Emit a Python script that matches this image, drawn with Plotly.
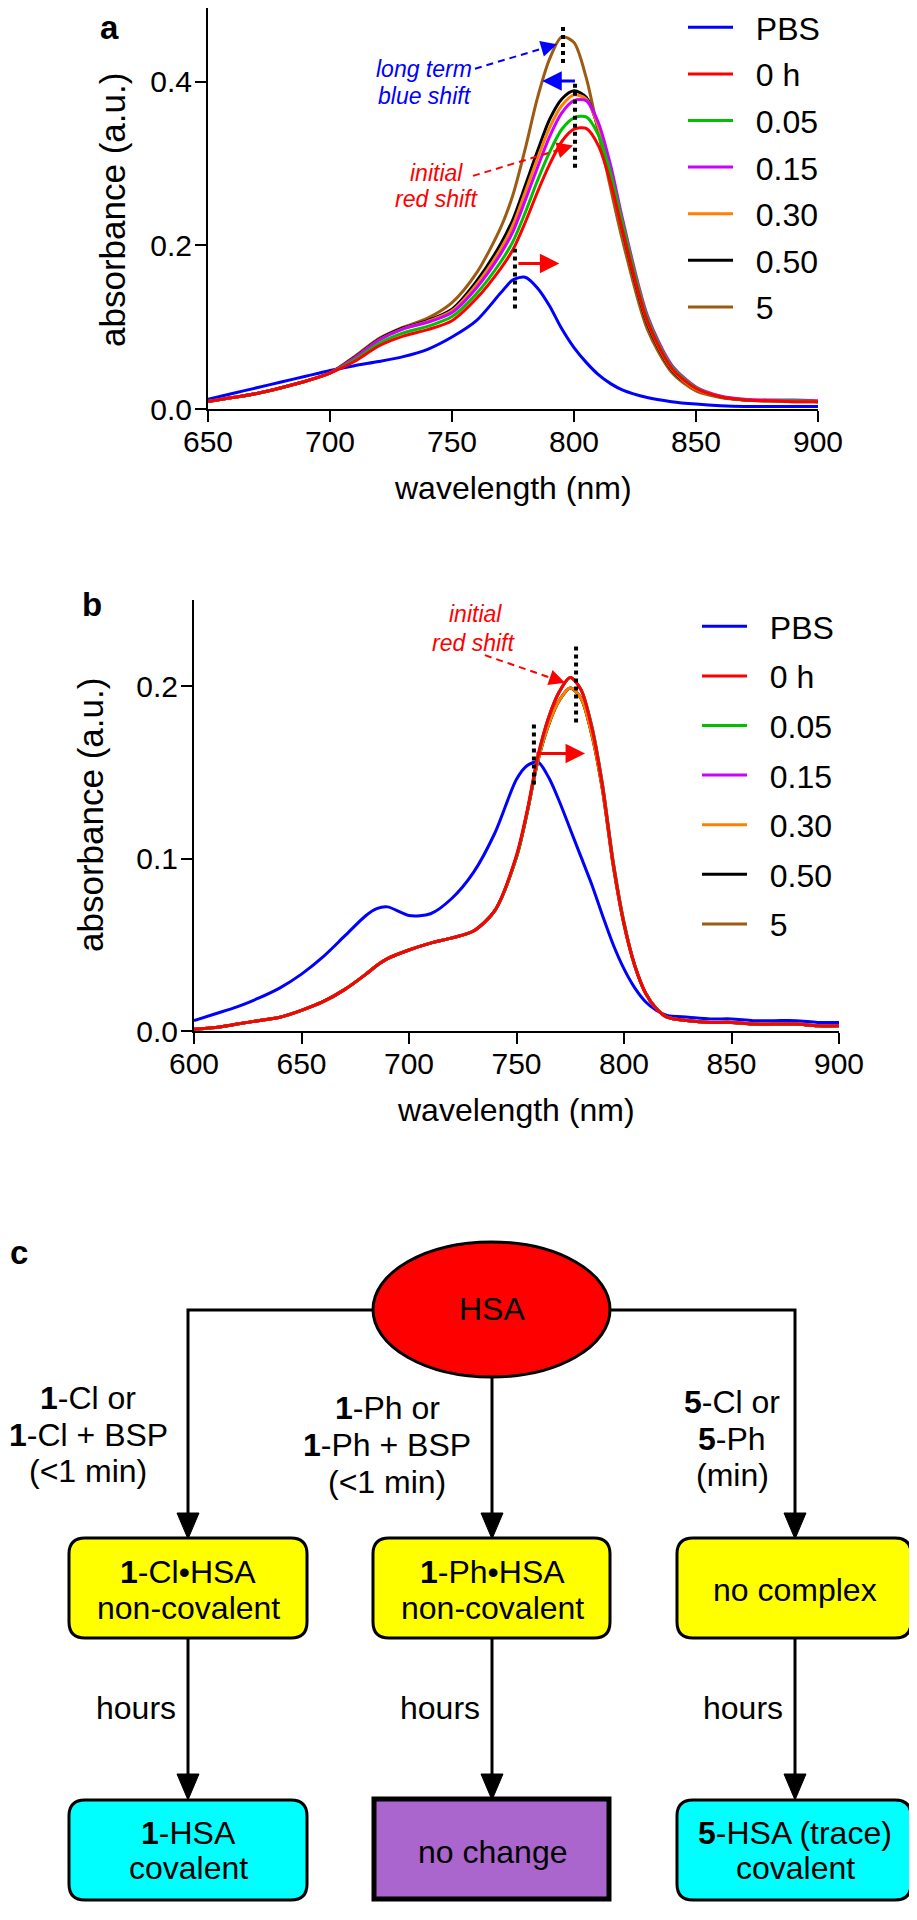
import plotly.graph_objects as go

FIG_W, FIG_H = 917, 1920
OFF = 8  # the page body margin pushes the figure 8px right and down; positions below are screen px
FONT = "Liberation Sans, Arial, sans-serif"

# ---- series ----
series_names = ["PBS", "0 h", "0.05", "0.15", "0.30", "0.50", "5"]
series_colors = ["#0000FF", "#FF0000", "#00C000", "#CC00FF", "#FF8000", "#000000", "#9C5B13"]

# panel a: wavelength (nm) and absorbance
wl_a = [650, 660, 670, 680, 690, 700, 710, 720, 730, 740, 750, 760, 770, 775, 780, 785,
        790, 795, 800, 805, 810, 815, 820, 830, 840, 850, 860, 870, 880, 890, 900]
a_pbs = [0.012, 0.019, 0.026, 0.033, 0.040, 0.047, 0.053, 0.058, 0.064, 0.073, 0.088, 0.108, 0.142, 0.158, 0.161, 0.148,
         0.126, 0.098, 0.075, 0.057, 0.042, 0.031, 0.023, 0.014, 0.009, 0.006, 0.004, 0.003, 0.003, 0.003, 0.003]
a_0h = [0.009, 0.014, 0.019, 0.026, 0.034, 0.044, 0.058, 0.077, 0.089, 0.097, 0.108, 0.135, 0.172, 0.195, 0.228, 0.265,
        0.299, 0.327, 0.342, 0.343, 0.322, 0.277, 0.217, 0.108, 0.050, 0.025, 0.015, 0.011, 0.010, 0.009, 0.009]
a_005 = [0.009, 0.014, 0.019, 0.026, 0.034, 0.044, 0.060, 0.080, 0.093, 0.101, 0.113, 0.141, 0.180, 0.205, 0.240, 0.279,
         0.314, 0.342, 0.356, 0.357, 0.335, 0.288, 0.226, 0.112, 0.052, 0.026, 0.015, 0.011, 0.010, 0.010, 0.009]
a_015 = [0.009, 0.014, 0.019, 0.026, 0.034, 0.044, 0.062, 0.084, 0.098, 0.106, 0.118, 0.148, 0.190, 0.217, 0.255, 0.295,
         0.333, 0.362, 0.377, 0.377, 0.350, 0.298, 0.231, 0.115, 0.054, 0.027, 0.016, 0.012, 0.011, 0.011, 0.010]
a_030 = [0.009, 0.014, 0.019, 0.026, 0.034, 0.044, 0.062, 0.084, 0.098, 0.107, 0.120, 0.152, 0.196, 0.225, 0.265, 0.306,
         0.344, 0.371, 0.384, 0.379, 0.344, 0.289, 0.221, 0.107, 0.049, 0.024, 0.015, 0.011, 0.010, 0.010, 0.009]
a_050 = [0.009, 0.014, 0.019, 0.026, 0.034, 0.044, 0.063, 0.085, 0.099, 0.108, 0.122, 0.156, 0.202, 0.232, 0.273, 0.315,
         0.354, 0.379, 0.389, 0.381, 0.343, 0.286, 0.218, 0.105, 0.048, 0.024, 0.015, 0.011, 0.010, 0.010, 0.009]
a_5 = [0.009, 0.014, 0.019, 0.026, 0.034, 0.044, 0.064, 0.086, 0.100, 0.111, 0.130, 0.166, 0.222, 0.262, 0.318, 0.380,
       0.428, 0.455, 0.448, 0.405, 0.338, 0.270, 0.205, 0.098, 0.045, 0.022, 0.014, 0.011, 0.010, 0.009, 0.009]

# panel b
wl_b = [600, 610, 620, 630, 640, 650, 660, 670, 680, 685, 690, 700, 710, 720, 730, 740, 750, 755, 760, 765,
        770, 775, 780, 785, 790, 795, 800, 805, 810, 815, 820, 830, 840, 850, 860, 870, 880, 890, 900]
b_pbs = [0.006, 0.010, 0.014, 0.019, 0.025, 0.033, 0.043, 0.055, 0.067, 0.071, 0.072, 0.067, 0.068, 0.077, 0.092, 0.115,
         0.146, 0.154, 0.156, 0.147, 0.133, 0.117, 0.101, 0.085, 0.067, 0.050, 0.036, 0.025, 0.017, 0.012, 0.009,
         0.008, 0.007, 0.007, 0.006, 0.006, 0.006, 0.005, 0.005]
b_0h = [0.001, 0.002, 0.004, 0.006, 0.008, 0.012, 0.017, 0.024, 0.033, 0.038, 0.042, 0.047, 0.051, 0.054, 0.058, 0.070,
        0.102, 0.128, 0.160, 0.182, 0.197, 0.205, 0.198, 0.176, 0.142, 0.097, 0.062, 0.038, 0.022, 0.013, 0.008,
        0.006, 0.005, 0.005, 0.004, 0.004, 0.004, 0.003, 0.003]
b_005 = [0.001, 0.002, 0.004, 0.006, 0.008, 0.012, 0.017, 0.024, 0.033, 0.038, 0.042, 0.047, 0.051, 0.054, 0.058, 0.070,
         0.101, 0.127, 0.159, 0.182, 0.197, 0.205, 0.198, 0.177, 0.143, 0.098, 0.063, 0.038, 0.022, 0.013, 0.008,
         0.006, 0.005, 0.005, 0.004, 0.004, 0.004, 0.003, 0.003]
b_015 = [0.001, 0.002, 0.004, 0.006, 0.008, 0.012, 0.017, 0.024, 0.033, 0.038, 0.042, 0.047, 0.051, 0.054, 0.058, 0.070,
         0.101, 0.127, 0.159, 0.182, 0.197, 0.205, 0.198, 0.177, 0.143, 0.098, 0.063, 0.038, 0.022, 0.013, 0.008,
         0.006, 0.005, 0.005, 0.004, 0.004, 0.004, 0.003, 0.003]
b_030 = [0.001, 0.002, 0.004, 0.006, 0.008, 0.012, 0.017, 0.024, 0.033, 0.038, 0.042, 0.047, 0.051, 0.054, 0.058, 0.070,
         0.101, 0.127, 0.157, 0.178, 0.192, 0.199, 0.193, 0.172, 0.140, 0.096, 0.062, 0.038, 0.022, 0.013, 0.008,
         0.006, 0.005, 0.005, 0.004, 0.004, 0.004, 0.003, 0.003]
b_050 = [0.001, 0.002, 0.004, 0.006, 0.008, 0.012, 0.017, 0.024, 0.033, 0.038, 0.042, 0.047, 0.051, 0.054, 0.058, 0.070,
         0.101, 0.127, 0.157, 0.178, 0.192, 0.199, 0.193, 0.172, 0.140, 0.096, 0.062, 0.038, 0.022, 0.013, 0.008,
         0.006, 0.005, 0.005, 0.004, 0.004, 0.004, 0.003, 0.003]
b_5 = [0.001, 0.002, 0.004, 0.006, 0.008, 0.012, 0.017, 0.024, 0.033, 0.038, 0.042, 0.047, 0.051, 0.054, 0.058, 0.070,
       0.101, 0.127, 0.157, 0.178, 0.192, 0.199, 0.193, 0.172, 0.140, 0.096, 0.062, 0.038, 0.022, 0.013, 0.008,
       0.006, 0.005, 0.005, 0.004, 0.004, 0.004, 0.003, 0.003]

# peak markers: (wavelength, y bottom, y top)
a_peak_marks = [(795.5, 0.423, 0.472), (800.4, 0.295, 0.401), (775.8, 0.123, 0.196)]
b_peak_marks = [(758.1, 0.143, 0.180), (777.7, 0.179, 0.225)]

# flowchart text
cond_left = ["<b>1</b>-Cl or", "<b>1</b>-Cl + BSP", "(&lt;1 min)"]
cond_mid = ["<b>1</b>-Ph or", "<b>1</b>-Ph + BSP", "(&lt;1 min)"]
cond_right = ["<b>5</b>-Cl or", "<b>5</b>-Ph", "(min)"]
box_mid_row = [["<b>1</b>-Cl•HSA", "non-covalent"], ["<b>1</b>-Ph•HSA", "non-covalent"], ["no complex"]]
box_low_row = [["<b>1</b>-HSA", "covalent"], ["no change"], ["<b>5</b>-HSA (trace)", "covalent"]]


def dom_x(p0, p1):
    return [(p0 - OFF) / FIG_W, (p1 - OFF) / FIG_W]


def dom_y(top, bottom):
    return [1 - (bottom - OFF) / FIG_H, min(1.0, 1 - (top - OFF) / FIG_H)]


fig = go.Figure()

a_vals = [a_pbs, a_0h, a_005, a_015, a_030, a_050, a_5]
b_vals = [b_pbs, b_0h, b_005, b_015, b_030, b_050, b_5]
draw_order = [0, 6, 5, 4, 3, 2, 1]  # red drawn last, on top
GAP = "\u00a0\u00a0"  # space between legend key and label

for i in draw_order:
    fig.add_trace(go.Scatter(x=wl_a, y=a_vals[i], name=GAP + series_names[i], mode="lines",
                             line=dict(color=series_colors[i], width=3, shape="spline", smoothing=0.8),
                             xaxis="x", yaxis="y", legend="legend", legendrank=i + 1,
                             legendgroup="a%d" % i))
for i in draw_order:
    fig.add_trace(go.Scatter(x=wl_b, y=b_vals[i], name=GAP + series_names[i], mode="lines",
                             line=dict(color=series_colors[i], width=3, shape="spline", smoothing=0.8),
                             xaxis="x2", yaxis="y2", legend="legend2", legendrank=i + 1,
                             legendgroup="b%d" % i))
# empty trace so the pixel overlay subplot exists
fig.add_trace(go.Scatter(x=[], y=[], xaxis="x3", yaxis="y3", showlegend=False))

axis_common = dict(showline=True, linecolor="black", linewidth=2, ticks="outside", ticklen=11,
                   tickwidth=2, tickcolor="black", showgrid=False, zeroline=False,
                   tickfont=dict(family=FONT, size=30, color="black"), fixedrange=True)

# panel a's axis top sits at screen y=0 in the reference; the figure starts at OFF
a_top = 0.5 * (409 - OFF) / 409

fig.update_layout(
    width=FIG_W, height=FIG_H, margin=dict(l=0, r=0, t=0, b=0, autoexpand=False),
    paper_bgcolor="white", plot_bgcolor="rgba(0,0,0,0)",
    font=dict(family=FONT, color="black"),
    xaxis=dict(domain=dom_x(208, 818), range=[650, 900], tickvals=[650, 700, 750, 800, 850, 900],
               anchor="y", ticklabelstandoff=-6, **axis_common),
    yaxis=dict(domain=dom_y(OFF, 409), range=[0, a_top], tickvals=[0, 0.2, 0.4], tickformat=".1f",
               anchor="x", ticklabelstandoff=-3, **axis_common),
    xaxis2=dict(domain=dom_x(194, 839), range=[600, 900],
                tickvals=[600, 650, 700, 750, 800, 850, 900], anchor="y2", ticklabelstandoff=-6,
                **axis_common),
    yaxis2=dict(domain=dom_y(600, 1031), range=[0, 0.25], tickvals=[0, 0.1, 0.2],
                tickformat=".1f", anchor="x2", ticklabelstandoff=-3, **axis_common),
    xaxis3=dict(domain=[0, 1], range=[OFF, FIG_W + OFF], visible=False, anchor="y3", fixedrange=True),
    yaxis3=dict(domain=[0, 1], range=[FIG_H + OFF, OFF], visible=False, anchor="x3", fixedrange=True),
    legend=dict(x=(683 - OFF) / FIG_W, y=1 + OFF / FIG_H, xanchor="left", yanchor="top",
                traceorder="grouped", tracegroupgap=2, itemwidth=45,
                font=dict(size=32, family=FONT), bgcolor="rgba(0,0,0,0)"),
    legend2=dict(x=(697 - OFF) / FIG_W, y=1 - (599 - OFF) / FIG_H, xanchor="left", yanchor="top",
                 traceorder="grouped", tracegroupgap=5, itemwidth=45,
                 font=dict(size=32, family=FONT), bgcolor="rgba(0,0,0,0)"),
)

shapes = []
ann = []

# ---- panel a / b decorations ----
for xv, y0, y1 in a_peak_marks:
    shapes.append(dict(type="line", xref="x", yref="y", x0=xv, x1=xv, y0=y0, y1=y1,
                       line=dict(color="black", width=4, dash="dot")))
for xv, y0, y1 in b_peak_marks:
    shapes.append(dict(type="line", xref="x2", yref="y2", x0=xv, x1=xv, y0=y0, y1=y1,
                       line=dict(color="black", width=4, dash="dot")))


def solid_arrow(xr, yr, x0, y0, x1, y1, color, size=1.3, width=3):
    ann.append(dict(xref=xr, yref=yr, axref=xr, ayref=yr, x=x1, y=y1, ax=x0, ay=y0, text="",
                    showarrow=True, arrowhead=2, arrowsize=size, arrowwidth=width, arrowcolor=color,
                    standoff=0, startstandoff=0))


def dashed_arrow(xr, yr, x0, y0, x1, y1, color):
    shapes.append(dict(type="line", xref=xr, yref=yr, x0=x0, y0=y0,
                       x1=x0 + 0.85 * (x1 - x0), y1=y0 + 0.85 * (y1 - y0),
                       line=dict(color=color, width=2, dash="7px,5px")))
    solid_arrow(xr, yr, x0 + 0.8 * (x1 - x0), y0 + 0.8 * (y1 - y0), x1, y1, color, size=1.6, width=2)


solid_arrow("x", "y", 776.6, 0.178, 794.0, 0.178, "#FF0000")
solid_arrow("x", "y", 801.0, 0.401, 787.0, 0.401, "#0000FF")
dashed_arrow("x", "y", 759.4, 0.416, 793.0, 0.446, "#0000FF")
dashed_arrow("x", "y", 758.6, 0.285, 799.6, 0.322, "#FF0000")
solid_arrow("x2", "y2", 758.6, 0.161, 781.9, 0.161, "#FF0000")
dashed_arrow("x2", "y2", 735.3, 0.218, 772.6, 0.202, "#FF0000")

note_font = 23
for txt, xv, yv, col, xr, yr in [
    ("long term", 738.5, 0.416, "#0000FF", "x", "y"),
    ("blue shift", 738.9, 0.383, "#0000FF", "x", "y"),
    ("initial", 743.6, 0.289, "#FF0000", "x", "y"),
    ("red shift", 743.6, 0.257, "#FF0000", "x", "y"),
    ("initial", 730.7, 0.242, "#FF0000", "x2", "y2"),
    ("red shift", 730.2, 0.225, "#FF0000", "x2", "y2"),
]:
    ann.append(dict(xref=xr, yref=yr, x=xv, y=yv, text="<i>%s</i>" % txt, showarrow=False,
                    font=dict(size=note_font, color=col, family=FONT), xanchor="center", yanchor="middle"))

# axis titles and panel letters, placed in screen pixel space
def ptext(txt, x, y, size, xanchor="center", angle=0):
    ann.append(dict(xref="x3", yref="y3", x=x, y=y, text=txt, showarrow=False, textangle=angle,
                    font=dict(size=size, color="black", family=FONT), xanchor=xanchor, yanchor="middle"))


ptext("<b>a</b>", 109, 27, 33)
ptext("<b>b</b>", 92, 604, 33)
ptext("<b>c</b>", 19, 1252, 33)
ptext("wavelength (nm)", 513, 488, 32)
ptext("wavelength (nm)", 516, 1110, 32)
ptext("absorbance (a.u.)", 112, 210, 35, angle=-90)
ptext("absorbance (a.u.)", 90, 815, 35, angle=-90)

# ---- panel c: flowchart in screen pixel coordinates ----
def rounded(x0, y0, x1, y1, r=16):
    return ("M{a},{y0} L{b},{y0} Q{x1},{y0} {x1},{c} L{x1},{d} Q{x1},{y1} {b},{y1} "
            "L{a},{y1} Q{x0},{y1} {x0},{d} L{x0},{c} Q{x0},{y0} {a},{y0} Z").format(
        a=x0 + r, b=x1 - r, c=y0 + r, d=y1 - r, x0=x0, x1=x1, y0=y0, y1=y1)


def tri(x, tip):
    return "M{0},{1} L{2},{1} L{3},{4} Z".format(x - 11, tip - 26, x + 11, x, tip)


cols_x = [188, 492, 795]
box_x = [(69, 307), (373, 610), (677, 911)]

c_line = dict(color="black", width=3)
shapes.append(dict(type="path", xref="x3", yref="y3", path="M373,1310 L188,1310 L188,1515", line=c_line))
shapes.append(dict(type="path", xref="x3", yref="y3", path="M610,1310 L795,1310 L795,1515", line=c_line))
shapes.append(dict(type="line", xref="x3", yref="y3", x0=492, x1=492, y0=1377, y1=1515, line=c_line))
for cx in cols_x:
    shapes.append(dict(type="path", xref="x3", yref="y3", path=tri(cx, 1539), fillcolor="black",
                       line=dict(color="black", width=1)))
    shapes.append(dict(type="line", xref="x3", yref="y3", x0=cx, x1=cx, y0=1638, y1=1776, line=c_line))
    shapes.append(dict(type="path", xref="x3", yref="y3", path=tri(cx, 1800), fillcolor="black",
                       line=dict(color="black", width=1)))

shapes.append(dict(type="circle", xref="x3", yref="y3", x0=373, x1=610, y0=1242, y1=1377,
                   fillcolor="#FF0000", line=dict(color="black", width=3)))

for (x0, x1) in box_x:
    shapes.append(dict(type="path", xref="x3", yref="y3", path=rounded(x0, 1538, x1, 1638),
                       fillcolor="#FFFF00", line=dict(color="black", width=3)))
shapes.append(dict(type="path", xref="x3", yref="y3", path=rounded(69, 1800, 307, 1900),
                   fillcolor="#00FFFF", line=dict(color="black", width=3)))
shapes.append(dict(type="rect", xref="x3", yref="y3", x0=374, x1=609, y0=1799, y1=1899,
                   fillcolor="#AA66CC", line=dict(color="black", width=5)))
shapes.append(dict(type="path", xref="x3", yref="y3", path=rounded(677, 1800, 911, 1900),
                   fillcolor="#00FFFF", line=dict(color="black", width=3)))

ptext("HSA", 492, 1309, 32)
for i, t in enumerate(cond_left):
    ptext(t, 88, 1398 + 36.5 * i, 32)
for i, t in enumerate(cond_mid):
    ptext(t, 387, 1408 + 37 * i, 32)
for i, t in enumerate(cond_right):
    ptext(t, 732, 1402 + 36.5 * i, 32)
for cx in cols_x:
    ptext("hours", cx - 10, 1708, 32, xanchor="right")

for cx, lines in zip(cols_x, box_mid_row):
    if len(lines) == 2:
        ptext(lines[0], cx, 1572, 32)
        ptext(lines[1], cx, 1608, 32)
    else:
        ptext(lines[0], cx, 1590, 32)
for cx, lines in zip(cols_x, box_low_row):
    if len(lines) == 2:
        ptext(lines[0], cx, 1833, 32)
        ptext(lines[1], cx, 1868, 32)
    else:
        ptext(lines[0], cx, 1852, 32)

fig.update_layout(shapes=shapes, annotations=ann)
fig.write_html("out.html")
